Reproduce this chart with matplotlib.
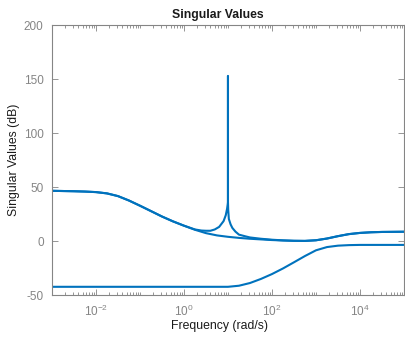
import numpy as np
import matplotlib
matplotlib.use("Agg")
import matplotlib.pyplot as plt
from matplotlib.ticker import FixedLocator, FixedFormatter, NullFormatter

plt.rcParams["font.family"] = ["Liberation Sans", "DejaVu Sans"]
plt.rcParams["mathtext.fontset"] = "custom"
plt.rcParams["mathtext.rm"] = "Liberation Sans"
plt.rcParams["mathtext.it"] = "Liberation Sans"

# Frequencies (rad/s), quarter-decade spacing, for the smooth branches
freq = [1.00e-3, 1.78e-3, 3.16e-3, 5.62e-3, 1.00e-2, 1.78e-2, 3.16e-2, 5.62e-2,
        1.00e-1, 1.78e-1, 3.16e-1, 5.62e-1, 1.00, 1.78, 3.16, 5.62,
        10.0, 17.8, 31.6, 56.2, 100.0, 178.0, 316.0, 562.0,
        1.00e3, 1.78e3, 3.16e3, 5.62e3, 1.00e4, 1.78e4, 3.16e4, 5.62e4, 1.00e5]

# Second singular value (dB)
sv2_db = [46.6, 46.4, 46.2, 45.9, 45.4, 44.2, 41.7, 37.6,
          32.8, 27.8, 22.8, 18.3, 14.3, 10.5, 7.4, 5.3,
          4.0, 3.0, 2.2, 1.6, 1.0, 0.6, 0.3, 0.2,
          0.8, 2.4, 4.6, 6.5, 7.6, 8.2, 8.5, 8.6, 8.7]

# Smallest singular value (dB)
sv3_db = [-42.3, -42.3, -42.3, -42.3, -42.3, -42.3, -42.3, -42.3,
          -42.3, -42.3, -42.3, -42.3, -42.3, -42.3, -42.3, -42.3,
          -42.3, -41.3, -38.8, -35.0, -30.5, -25.3, -19.6, -13.8,
          -8.5, -5.5, -4.2, -3.7, -3.5, -3.5, -3.5, -3.5, -3.5]

# Largest singular value, with the lightly damped resonance near 10 rad/s
freq_sv1 = [1.00e-3, 1.78e-3, 3.16e-3, 5.62e-3, 1.00e-2, 1.78e-2, 3.16e-2, 5.62e-2,
            1.00e-1, 1.78e-1, 3.16e-1, 5.62e-1, 1.00, 1.78, 2.51, 3.16,
            3.98, 5.01, 6.31, 7.94, 8.91, 9.55, 9.89, 9.99, 10.0, 10.01,
            10.12, 10.47, 11.48, 12.59, 14.79, 17.78, 25.1, 31.6, 56.2,
            100.0, 178.0, 316.0, 562.0,
            1.00e3, 1.78e3, 3.16e3, 5.62e3, 1.00e4, 1.78e4, 3.16e4, 5.62e4, 1.00e5]
sv1_db = [46.6, 46.4, 46.2, 45.9, 45.4, 44.2, 41.7, 37.6,
          32.8, 27.8, 22.8, 18.3, 14.3, 10.8, 9.8, 9.6,
          9.6, 10.8, 13.2, 18.5, 24.0, 30.0, 34.5, 36.0, 153.0, 36.0,
          29.0, 20.5, 15.5, 12.2, 8.8, 6.0, 4.4, 3.4, 2.2,
          1.3, 0.7, 0.3, 0.2,
          0.8, 2.4, 4.6, 6.5, 7.6, 8.2, 8.5, 8.6, 8.7]

xticks_major = [1e-2, 1e0, 1e2, 1e4]
xtick_labels = [r"$\mathregular{10^{-2}}$", r"$\mathregular{10^{0}}$",
                r"$\mathregular{10^{2}}$", r"$\mathregular{10^{4}}$"]
yticks = [-50, 0, 50, 100, 150, 200]

line_color = "#0072BD"
axis_gray = "#858585"
text_dark = "#1a1a1a"

fig = plt.figure(figsize=(4.06, 3.40), dpi=100)
ax = fig.add_axes([0.128, 0.132, 0.867, 0.794])

for f, v in [(freq_sv1, sv1_db), (freq, sv2_db), (freq, sv3_db)]:
    ax.plot(f, v, color=line_color, linewidth=1.5, solid_joinstyle="round")

ax.set_xscale("log")
ax.set_xlim(1e-3, 1e5)
ax.set_ylim(-50, 200)

ax.xaxis.set_major_locator(FixedLocator(xticks_major))
ax.xaxis.set_major_formatter(FixedFormatter(xtick_labels))
minor = [m * 10.0 ** k for k in range(-3, 5) for m in range(1, 10)
         if not (m == 1 and 10.0 ** k in xticks_major)]
ax.xaxis.set_minor_locator(FixedLocator(minor))
ax.xaxis.set_minor_formatter(NullFormatter())
ax.set_yticks(yticks)
ax.set_yticklabels([str(t) for t in yticks])

ax.tick_params(which="both", direction="in", top=True, right=True,
               colors=axis_gray, labelcolor=axis_gray, labelsize=8.5, width=0.6)
ax.tick_params(which="major", length=4)
ax.tick_params(which="minor", length=2)
ax.tick_params(axis="x", pad=6.5)
ax.tick_params(axis="y", pad=6)
for s in ax.spines.values():
    s.set_color(axis_gray)
    s.set_linewidth(0.8)

ax.set_title("Singular Values", fontsize=8.8, fontweight="bold", color=text_dark,
             x=0.472, pad=5)
ax.set_xlabel("Frequency (rad/s)", fontsize=8.8, color=text_dark)
ax.xaxis.set_label_coords(0.477, -0.093)
ax.set_ylabel("Singular Values (dB)", fontsize=8.8, color=text_dark, labelpad=3)

fig.savefig("out.png", dpi=100)
